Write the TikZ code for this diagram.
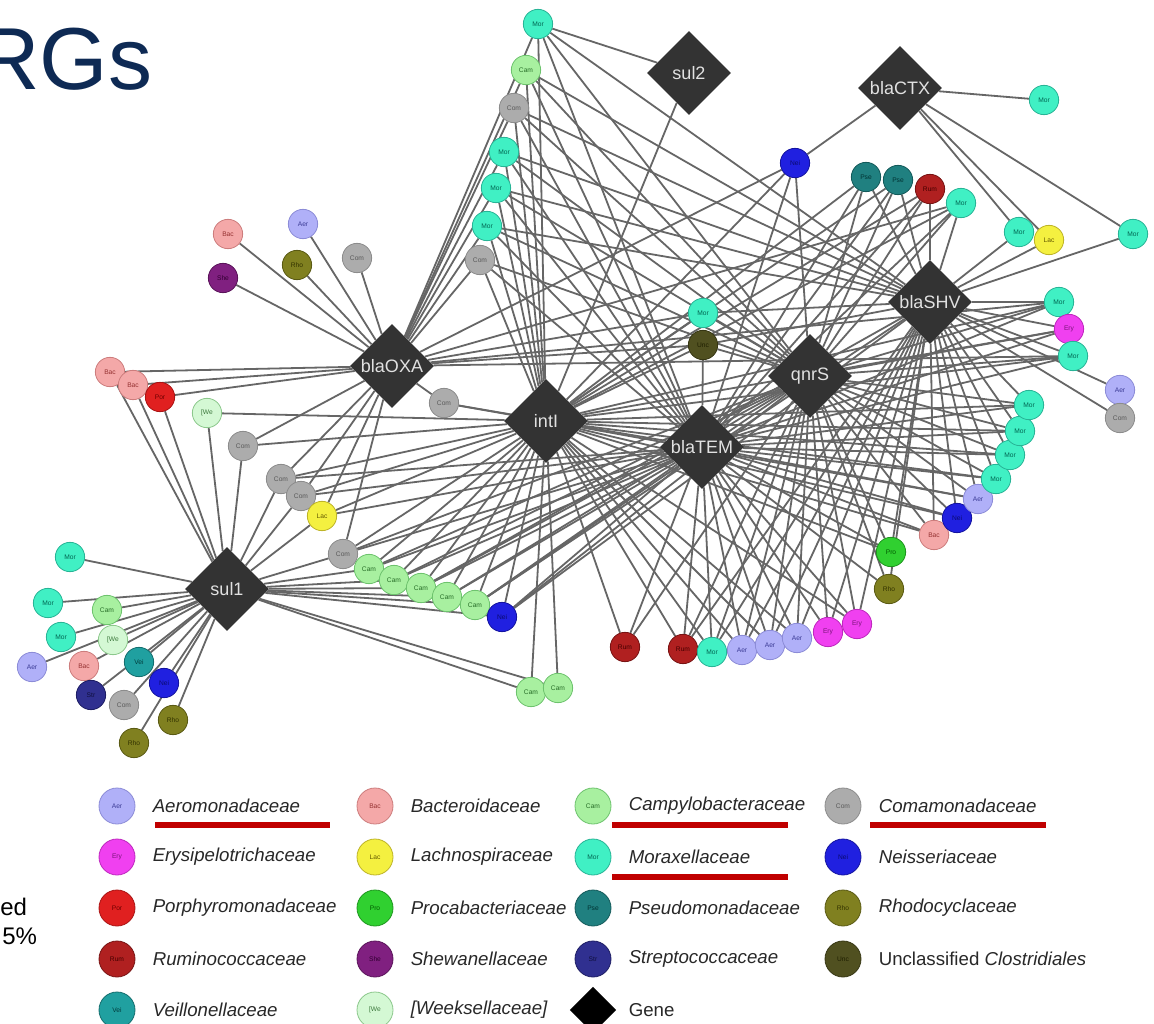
\documentclass[tikz,border=0pt]{standalone}
\usepackage{fontspec}
\setmainfont{Liberation Sans}
\usetikzlibrary{shapes.geometric}
\pgfdeclarelayer{back}
\pgfdeclarelayer{edges}
\pgfsetlayers{back,edges,main}
% family colours: fill / border / label
\definecolor{AerF}{RGB}{176,176,248}\definecolor{AerD}{RGB}{140,140,215}\definecolor{AerT}{RGB}{60,60,150}
\definecolor{BacF}{RGB}{244,168,168}\definecolor{BacD}{RGB}{205,125,125}\definecolor{BacT}{RGB}{150,50,50}
\definecolor{CamF}{RGB}{168,240,160}\definecolor{CamD}{RGB}{110,195,110}\definecolor{CamT}{RGB}{40,110,40}
\definecolor{ComF}{RGB}{172,172,172}\definecolor{ComD}{RGB}{140,140,140}\definecolor{ComT}{RGB}{90,90,90}
\definecolor{EryF}{RGB}{240,64,240}\definecolor{EryD}{RGB}{190,40,190}\definecolor{EryT}{RGB}{120,20,120}
\definecolor{LacF}{RGB}{244,240,64}\definecolor{LacD}{RGB}{190,180,40}\definecolor{LacT}{RGB}{100,90,0}
\definecolor{MorF}{RGB}{64,240,196}\definecolor{MorD}{RGB}{40,180,150}\definecolor{MorT}{RGB}{0,100,80}
\definecolor{NeiF}{RGB}{32,32,224}\definecolor{NeiD}{RGB}{20,20,160}\definecolor{NeiT}{RGB}{10,10,110}
\definecolor{PorF}{RGB}{224,32,32}\definecolor{PorD}{RGB}{170,20,20}\definecolor{PorT}{RGB}{110,0,0}
\definecolor{ProF}{RGB}{48,208,48}\definecolor{ProD}{RGB}{30,150,30}\definecolor{ProT}{RGB}{0,90,0}
\definecolor{PseF}{RGB}{32,128,128}\definecolor{PseD}{RGB}{20,90,90}\definecolor{PseT}{RGB}{0,50,50}
\definecolor{RhoF}{RGB}{128,128,32}\definecolor{RhoD}{RGB}{90,90,20}\definecolor{RhoT}{RGB}{50,50,0}
\definecolor{RumF}{RGB}{176,32,32}\definecolor{RumD}{RGB}{120,20,20}\definecolor{RumT}{RGB}{70,0,0}
\definecolor{SheF}{RGB}{128,32,128}\definecolor{SheD}{RGB}{90,20,90}\definecolor{SheT}{RGB}{50,0,50}
\definecolor{StrF}{RGB}{48,48,144}\definecolor{StrD}{RGB}{30,30,100}\definecolor{StrT}{RGB}{15,15,60}
\definecolor{UncF}{RGB}{80,80,32}\definecolor{UncD}{RGB}{55,55,20}\definecolor{UncT}{RGB}{30,30,0}
\definecolor{VeiF}{RGB}{32,160,160}\definecolor{VeiD}{RGB}{20,110,110}\definecolor{VeiT}{RGB}{0,60,60}
\definecolor{WeeF}{RGB}{212,248,212}\definecolor{WeeD}{RGB}{140,200,140}\definecolor{WeeT}{RGB}{60,120,60}
\definecolor{geneF}{RGB}{51,51,51}
\definecolor{geneT}{RGB}{225,225,225}
\definecolor{edgeC}{RGB}{102,102,102}
\definecolor{titleC}{RGB}{14,42,84}
\definecolor{legT}{RGB}{40,40,40}
\definecolor{ulC}{RGB}{192,0,0}
\tikzset{
  tax/.style={circle, minimum size=22pt, inner sep=0pt, line width=0.6pt,
    font=\fontsize{5}{5}\selectfont},
  fam/.style={tax, fill=#1F, draw=#1D, text=#1T},
  fAer/.style={fam=Aer}, fBac/.style={fam=Bac}, fCam/.style={fam=Cam},
  fCom/.style={fam=Com}, fEry/.style={fam=Ery}, fLac/.style={fam=Lac},
  fMor/.style={fam=Mor}, fNei/.style={fam=Nei}, fPor/.style={fam=Por},
  fPro/.style={fam=Pro}, fPse/.style={fam=Pse}, fRho/.style={fam=Rho},
  fRum/.style={fam=Rum}, fShe/.style={fam=She}, fStr/.style={fam=Str},
  fUnc/.style={fam=Unc}, fVei/.style={fam=Vei}, fWee/.style={fam=Wee},
  gene/.style={diamond, aspect=1, inner sep=0pt, minimum size=63pt,
    fill=geneF, text=geneT, font=\fontsize{13.5}{14}\selectfont},
  edge/.style={draw=edgeC, line width=1.35pt},
  legtext/.style={anchor=west, text=legT, font=\fontsize{14}{16}\selectfont\itshape},
  uline/.style={draw=ulC, line width=3.8pt},
}
\begin{document}
\begin{tikzpicture}[x=0.75pt, y=-0.75pt]
\useasboundingbox (0,0) rectangle (1154,1024);
\begin{pgfonlayer}{back}
\fill[white] (0,0) rectangle (1154,1024);
\end{pgfonlayer}
\clip (0,0) rectangle (1154,1024);

% title and cut-off slide text
\node[anchor=base west, inner sep=0pt, text=titleC, font=\fontsize{66}{66}\selectfont] (title) at (-24,90) {RGs};
\node[anchor=base west, inner sep=0pt, font=\fontsize{18}{20}\selectfont] (ted) at (0,915) {ed};
\node[anchor=base west, inner sep=0pt, font=\fontsize{18}{20}\selectfont] (tpct) at (2,944) {5\%};

% genes
\node[gene] (SUL2) at (689,73) {sul2};
\node[gene] (CTX) at (900,88) {blaCTX};
\node[gene] (OXA) at (392,366) {blaOXA};
\node[gene] (INT) at (546,421) {intI};
\node[gene] (TEM) at (702,447) {blaTEM};
\node[gene] (QNR) at (810,376) {qnrS};
\node[gene] (SHV) at (930,302) {blaSHV};
\node[gene] (SUL1) at (227,589) {sul1};

% taxa
\foreach \n/\f/\x/\y/\l in {
 t1/Mor/538/24/Mor, t2/Cam/526/70/Cam, t3/Com/514/108/Com, t4/Mor/504/152/Mor,
 t5/Mor/496/188/Mor, t6/Mor/487/226/Mor, t7/Com/480/260/Com,
 u1/Bac/228/234/Bac, u2/Aer/303/224/Aer, u3/Com/357/258/Com, u4/Rho/297/265/Rho, u5/She/223/278/She,
 l1/Bac/110/372/Bac, l2/Bac/133/385/Bac, l3/Por/160/397/Por, l4/Wee/207/413/{[We},
 l5/Com/243/446/Com, l6/Com/281/479/Com, l7/Com/301/496/Com, l8/Lac/322/516/Lac,
 l9/Com/444/403/Com, l10/Com/343/554/Com,
 m1/Cam/369/569/Cam, m2/Cam/394/580/Cam, m3/Cam/421/588/Cam, m4/Cam/447/597/Cam,
 m5/Cam/475/605/Cam, m6/Nei/502/617/Nei, m7/Cam/531/692/Cam, m8/Cam/558/688/Cam,
 s1/Mor/70/557/Mor, s2/Mor/48/603/Mor, s3/Cam/107/610/Cam, s4/Mor/61/637/Mor,
 s5/Wee/113/640/{[We}, s6/Aer/32/667/Aer, s7/Bac/84/666/Bac, s8/Vei/139/662/Vei,
 s9/Nei/164/683/Nei, s10/Str/91/695/Str, s11/Com/124/705/Com, s12/Rho/173/720/Rho,
 s13/Rho/134/743/Rho,
 b1/Rum/625/647/Rum, b2/Rum/683/649/Rum, b3/Mor/712/652/Mor, b4/Aer/742/650/Aer,
 b5/Aer/770/645/Aer, b6/Aer/797/638/Aer, b7/Ery/828/632/Ery, b8/Ery/857/624/Ery,
 b9/Rho/889/589/Rho, b10/Pro/891/552/Pro, b11/Bac/934/535/Bac, b12/Nei/957/518/Nei,
 b13/Aer/978/499/Aer, b14/Mor/996/479/Mor, b15/Mor/1010/455/Mor, b16/Mor/1020/431/Mor,
 b17/Mor/1029/405/Mor,
 r1/Aer/1120/390/Aer, r2/Com/1120/418/Com, r3/Mor/1059/302/Mor, r4/Ery/1069/329/Ery,
 r5/Mor/1073/356/Mor, r6/Mor/1019/232/Mor, r7/Lac/1049/240/Lac, r8/Mor/1133/234/Mor,
 r9/Mor/1044/100/Mor,
 p1/Nei/795/163/Nei, p2/Pse/866/177/Pse, p3/Pse/898/180/Pse, p4/Rum/930/189/Rum,
 p5/Mor/961/203/Mor,
 c1/Mor/703/313/Mor, c2/Unc/703/345/Unc}
 \node[f\f] (\n) at (\x,\y) {\l};

% connectors
\begin{pgfonlayer}{edges}
\foreach \t/\gs in {
 t1/{SUL2,OXA,INT,TEM,QNR,SHV}, t2/{OXA,INT,TEM,QNR,SHV}, t3/{OXA,INT,TEM,QNR,SHV},
 t4/{OXA,INT,TEM,QNR,SHV}, t5/{OXA,INT,TEM,QNR,SHV}, t6/{OXA,INT,TEM,QNR,SHV},
 t7/{OXA,INT,TEM,QNR},
 u1/{OXA}, u2/{OXA}, u3/{OXA}, u4/{OXA}, u5/{OXA},
 l1/{OXA,SUL1}, l2/{OXA,SUL1}, l3/{OXA,SUL1}, l4/{INT,SUL1}, l5/{OXA,INT,SUL1},
 l6/{OXA,INT,TEM,SUL1}, l7/{OXA,INT,TEM,SUL1}, l8/{OXA,INT,TEM,SUL1},
 l9/{OXA,INT,TEM}, l10/{OXA,INT,TEM,QNR,SUL1},
 m1/{INT,TEM,QNR,SUL1}, m2/{INT,TEM,QNR,SUL1}, m3/{INT,TEM,QNR,SHV,SUL1},
 m4/{INT,TEM,QNR,SUL1}, m5/{INT,TEM,QNR,SHV,SUL1}, m6/{INT,TEM,QNR,SHV,SUL1},
 m7/{INT,SUL1}, m8/{INT,SUL1},
 s1/{SUL1}, s2/{SUL1}, s3/{SUL1}, s4/{SUL1}, s5/{SUL1}, s6/{SUL1}, s7/{SUL1},
 s8/{SUL1}, s9/{SUL1}, s10/{SUL1}, s11/{SUL1}, s12/{SUL1}, s13/{SUL1},
 b1/{INT,TEM,QNR}, b2/{INT,TEM,QNR,SHV}, b3/{INT,TEM,QNR,SHV}, b4/{INT,TEM,QNR,SHV},
 b5/{INT,TEM,QNR,SHV}, b6/{INT,TEM,QNR,SHV}, b7/{TEM,QNR,SHV}, b8/{INT,TEM,QNR,SHV},
 b9/{TEM,QNR,SHV}, b10/{INT,TEM,QNR,SHV}, b11/{INT,TEM,QNR,SHV}, b12/{INT,TEM,QNR,SHV},
 b13/{INT,TEM,QNR,SHV}, b14/{INT,TEM,QNR,SHV}, b15/{INT,TEM,QNR,SHV},
 b16/{INT,TEM,QNR,SHV}, b17/{INT,TEM,QNR,SHV},
 r1/{SHV}, r2/{SHV}, r3/{OXA,INT,TEM,QNR,SHV}, r4/{INT,TEM,QNR,SHV},
 r5/{OXA,INT,TEM,QNR,SHV}, r6/{SHV,CTX}, r7/{SHV,CTX}, r8/{SHV,CTX}, r9/{CTX},
 p1/{CTX,QNR,TEM,INT,OXA}, p2/{SHV,QNR,TEM,INT}, p3/{SHV,QNR,TEM,INT},
 p4/{SHV,QNR,TEM,INT}, p5/{SHV,QNR,TEM,INT,OXA},
 c1/{OXA,INT,QNR,SHV}, c2/{TEM,INT,OXA,QNR,SHV}}
 { \foreach \g in \gs { \draw[edge] (\t) -- (\g); } }
\draw[edge] (SUL2) -- (INT);
\end{pgfonlayer}

% legend
\foreach \n/\f/\x/\y/\l/\name in {
 kAer/Aer/117/806/Aer/Aeromonadaceae, kBac/Bac/375/806/Bac/Bacteroidaceae,
 kCam/Cam/593/806/Cam/Campylobacteraceae, kCom/Com/843/806/Com/Comamonadaceae,
 kEry/Ery/117/857/Ery/Erysipelotrichaceae, kLac/Lac/375/857/Lac/Lachnospiraceae,
 kMor/Mor/593/857/Mor/Moraxellaceae, kNei/Nei/843/857/Nei/Neisseriaceae,
 kPor/Por/117/908/Por/Porphyromonadaceae, kPro/Pro/375/908/Pro/Procabacteriaceae,
 kPse/Pse/593/908/Pse/Pseudomonadaceae, kRho/Rho/843/908/Rho/Rhodocyclaceae,
 kRum/Rum/117/959/Rum/Ruminococcaceae, kShe/She/375/959/She/Shewanellaceae,
 kStr/Str/593/959/Str/Streptococcaceae,
 kVei/Vei/117/1010/Vei/Veillonellaceae, kWee/Wee/375/1010/{[We}/{[Weeksellaceae]}}
{
 \node[f\f, minimum size=27pt] (\n) at (\x,\y) {\l};
 \node[legtext] (\n t) at ([xshift=9.5pt]\n.east) {\name};
}
\node[fUnc, minimum size=27pt] (kUnc) at (843,959) {Unc};
\node[legtext, font=\fontsize{14}{16}\selectfont] (kUnct) at ([xshift=9.5pt]kUnc.east) {Unclassified \textit{Clostridiales}};
\node[diamond, aspect=1, inner sep=0pt, minimum size=35pt, fill=black] (kGene) at (593,1010) {};
\node[legtext, font=\fontsize{14}{16}\selectfont] (kGenet) at ([xshift=9.5pt]kCam.east |- kGene) {Gene};

% red underlines
\draw[uline] (155,825) -- (330,825);
\draw[uline] (612,825) -- (788,825);
\draw[uline] (612,877) -- (788,877);
\draw[uline] (870,825) -- (1046,825);
\end{tikzpicture}
\end{document}
